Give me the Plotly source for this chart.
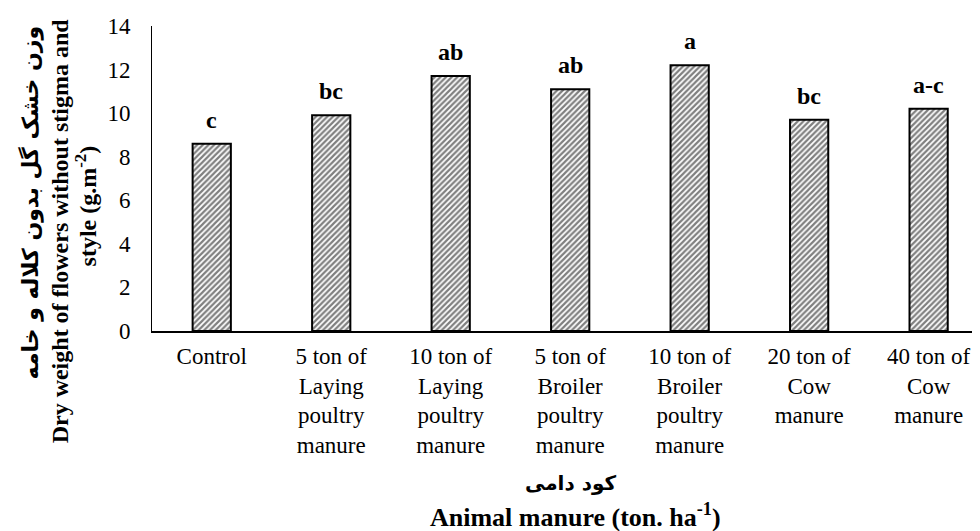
import plotly.graph_objects as go

categories = ["Control", "5 ton of<br>Laying<br>poultry<br>manure", "10 ton of<br>Laying<br>poultry<br>manure",
              "5 ton of<br>Broiler<br>poultry<br>manure", "10 ton of<br>Broiler<br>poultry<br>manure",
              "20 ton of<br>Cow<br>manure", "40 ton of<br>Cow<br>manure"]
values = [8.6, 9.9, 11.7, 11.1, 12.2, 9.7, 10.2]
letters = ["c", "bc", "ab", "ab", "a", "bc", "a-c"]
y_ticks = [0, 2, 4, 6, 8, 10, 12, 14]

x_idx = list(range(len(categories)))
serif = "Liberation Serif"
persian = "DejaVu Sans"

fig = go.Figure()
fig.add_trace(go.Bar(
    x=x_idx, y=values, width=0.32,
    marker=dict(color="white", line=dict(color="black", width=2),
                pattern=dict(shape="/", fgcolor="black", bgcolor="white", size=4, solidity=0.55)),
    showlegend=False, hoverinfo="skip",
))

for xi, v, t in zip(x_idx, values, letters):
    fig.add_annotation(x=xi, y=v, text=f"<b>{t}</b>", showarrow=False, yanchor="bottom", yshift=9,
                       font=dict(family=serif, size=24, color="black"))

# x-axis titles
fig.add_annotation(xref="paper", yref="paper", x=0.506, y=-0.497, text="<b>کود دامی</b>", showarrow=False,
                   font=dict(family=persian, size=20, color="black"), yanchor="middle")
fig.add_annotation(xref="paper", yref="paper", x=0.512, y=-0.605,
                   text="<b>Animal manure (ton. ha<sup>-1</sup>)</b>", showarrow=False,
                   font=dict(family=serif, size=26, color="black"), yanchor="middle")
# y-axis titles
fig.add_annotation(xref="paper", yref="paper", x=-0.1473, y=0.4216, xanchor="center", yanchor="middle",
                   text="<b>وزن خشک گل بدون کلاله و خامه</b>", textangle=-90, showarrow=False,
                   font=dict(family=persian, size=22, color="black"))
fig.add_annotation(xref="paper", yref="paper", x=-0.111, y=0.327, xanchor="center", yanchor="middle",
                   text="<b>Dry weight of flowers without stigma and</b>",
                   textangle=-90, showarrow=False,
                   font=dict(family=serif, size=24, color="black"))
fig.add_annotation(xref="paper", yref="paper", x=-0.0797, y=0.4085, xanchor="center", yanchor="middle",
                   text="<b>style (g.m<sup>-2</sup>)</b>",
                   textangle=-90, showarrow=False,
                   font=dict(family=serif, size=24, color="black"))

fig.update_layout(
    width=972, height=523,
    margin=dict(l=144, r=0, t=17.5, b=199.5),
    plot_bgcolor="white", paper_bgcolor="white",
    font=dict(family=serif, size=23, color="black"),
    xaxis=dict(range=[-0.5, 6.43], tickmode="array", tickvals=x_idx, ticktext=categories,
               showline=True, linecolor="black", linewidth=2, showgrid=False, zeroline=False,
               ticks="", tickangle=0, ticklabelstandoff=3, tickfont=dict(family=serif, size=23, color="black")),
    yaxis=dict(range=[0, 14], tickmode="array", tickvals=y_ticks, showline=True, linecolor="black",
               linewidth=1, showgrid=False, zeroline=False, ticks="", ticklabelstandoff=16,
               tickfont=dict(family=serif, size=23, color="black")),
)

fig.write_html("out.html")
